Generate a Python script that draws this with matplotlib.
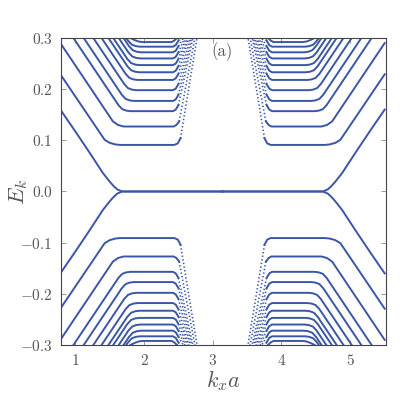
import numpy as np
import matplotlib
matplotlib.use("Agg")
import matplotlib.pyplot as plt

plt.rcParams["font.family"] = "serif"
plt.rcParams["font.serif"] = ["cmr10"]
plt.rcParams["mathtext.fontset"] = "cm"
plt.rcParams["axes.formatter.use_mathtext"] = True

# left half (k < pi) of the positive bands
# the rest of the spectrum follows from k -> 2 pi - k and E -> -E
band_k = [
    [0.78, 1.00, 1.20, 1.40, 1.50, 1.56, 1.61, 1.68, 3.1416],
    [0.78, 1.425, 1.50, 1.58, 1.65, 2.44, 2.49, 2.53, 2.77],
    [0.78, 1.545, 1.62, 1.70, 1.76, 2.43, 2.47, 2.51, 2.74],
    [0.97, 1.625, 1.68, 1.74, 1.80, 2.42, 2.46, 2.50, 2.71],
    [1.12, 1.675, 1.73, 1.79, 1.85, 2.42, 2.46, 2.50, 2.69],
    [1.26, 1.710, 1.765, 1.825, 1.885, 2.42, 2.46, 2.50, 2.67],
    [1.38, 1.730, 1.785, 1.845, 1.905, 2.42, 2.46, 2.50, 2.65],
    [1.48, 1.755, 1.81, 1.87, 1.93, 2.42, 2.46, 2.50, 2.63],
    [1.55, 1.755, 1.81, 1.87, 1.93, 2.42, 2.46, 2.50, 2.61],
    [1.63, 1.770, 1.825, 1.885, 1.945, 2.42, 2.46, 2.50, 2.59],
    [1.70, 1.780, 1.835, 1.895, 1.955, 2.42, 2.46, 2.50, 2.57],
    [1.74, 1.765, 1.82, 1.88, 1.94, 2.42, 2.46, 2.50, 2.53],
    [1.80, 1.830, 1.86, 1.92, 1.98, 2.40, 2.44, 2.47, 2.49],
]
band_E = [
    [0.160, 0.117, 0.077, 0.036, 0.019, 0.010, 0.004, 0.000, 0.000],
    [0.229, 0.101, 0.095, 0.092, 0.091, 0.091, 0.094, 0.104, 0.300],
    [0.290, 0.137, 0.130, 0.127, 0.127, 0.127, 0.130, 0.137, 0.300],
    [0.300, 0.169, 0.161, 0.158, 0.157, 0.157, 0.160, 0.169, 0.300],
    [0.300, 0.189, 0.181, 0.178, 0.177, 0.177, 0.180, 0.189, 0.300],
    [0.300, 0.210, 0.202, 0.199, 0.198, 0.198, 0.201, 0.210, 0.300],
    [0.300, 0.230, 0.222, 0.219, 0.218, 0.218, 0.221, 0.230, 0.300],
    [0.300, 0.245, 0.237, 0.234, 0.233, 0.233, 0.236, 0.245, 0.300],
    [0.300, 0.259, 0.251, 0.248, 0.247, 0.247, 0.250, 0.259, 0.300],
    [0.300, 0.272, 0.264, 0.261, 0.260, 0.260, 0.263, 0.272, 0.300],
    [0.300, 0.284, 0.276, 0.273, 0.272, 0.272, 0.275, 0.284, 0.300],
    [0.300, 0.295, 0.287, 0.284, 0.283, 0.283, 0.286, 0.295, 0.300],
    [0.300, 0.298, 0.296, 0.293, 0.292, 0.292, 0.295, 0.299, 0.300],
]
# the steep last segment is sampled sparsely -> dotted look
n_steep = [0, 1, 1, 1, 1, 1, 1, 1, 1, 1, 1, 1, 1]

x_ticks = [1, 2, 3, 4, 5]
y_ticks = [-0.3, -0.2, -0.1, 0.0, 0.1, 0.2, 0.3]

COLOR = "#3a56a5"
GREY = "#555555"

fig = plt.figure(figsize=(4.07, 4.04), dpi=100)
ax = fig.add_axes([0.150, 0.146, 0.798, 0.760])

for kk, ee, ns in zip(band_k, band_E, n_steep):
    kk = np.array(kk)
    ee = np.array(ee)
    for kx in (kk, 2 * np.pi - kk):
        for sgn in (1, -1):
            m = len(kk) - ns
            ax.plot(kx[:m], sgn * ee[:m], "-", color=COLOR, lw=1.4)
            if ns:
                ax.plot(kx[m - 1:], sgn * ee[m - 1:], color=COLOR, lw=1.2,
                        linestyle=(0, (0.8, 1.4)))

ax.set_xlim(0.79, 5.52)
ax.set_ylim(-0.3, 0.3)
ax.set_xticks(x_ticks)
ax.set_yticks(y_ticks)
ax.tick_params(direction="in", top=True, right=True, length=3.5, width=0.6,
               color="#888888", labelsize=11, labelcolor=GREY, pad=6)
for s in ax.spines.values():
    s.set_color("#444444")
    s.set_linewidth(0.8)

ax.set_xlabel(r"$k_x a$", fontsize=16, color=GREY)
ax.set_ylabel(r"$E_k$", fontsize=16, color=GREY)
ax.xaxis.set_label_coords(0.5, -0.075)
ax.yaxis.set_label_coords(-0.095, 0.5)
ax.text(0.497, 0.955, "(a)", transform=ax.transAxes, ha="center", va="center",
        fontsize=12, color=GREY)

fig.savefig("out.png", dpi=100)
